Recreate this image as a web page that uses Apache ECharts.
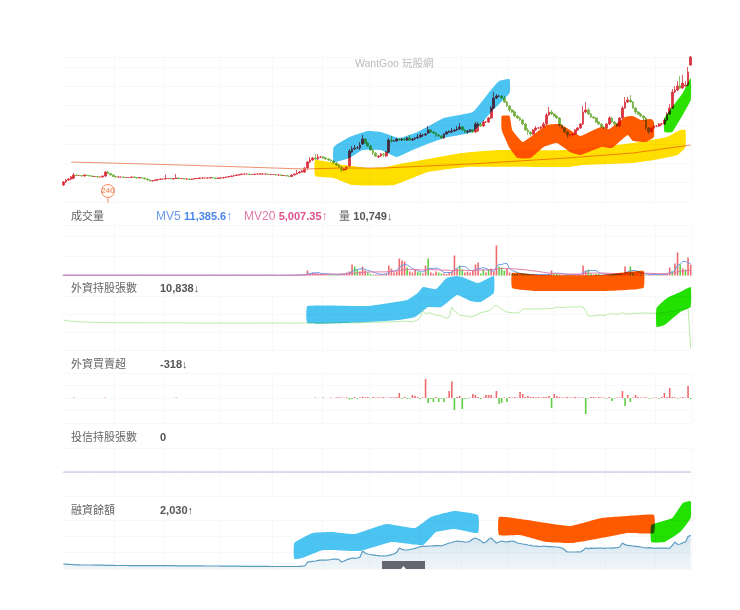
<!DOCTYPE html>
<html><head><meta charset="utf-8">
<script src="https://cdn.jsdelivr.net/npm/echarts@6/dist/echarts.min.js"></script>
<style>html,body{margin:0;background:#fff}#c{width:740px;height:610px}</style></head>
<body><div id="c"></div>
<script>
const opens=[5,8,10,11,12,15,14.5,14.5,14,15,14.5,14,13.5,13.5,13,13,14,18,16.5,15,
13.5,13,13,13,12.5,12.5,12.5,13,12.5,12,12.5,12,11,10,9,9.5,10,10.5,11,11,
11.5,11.5,11,11.5,12,11.5,11.5,11,11,10.5,11,11.5,11.5,12,12,12,12,12.5,12,11.5,
12,12,12.5,13,13.5,14,14.5,15,15.5,16,16,16,15.5,15.5,16,16,16,16,16,15.5,
15.5,15.5,15,15,14.5,14.5,14,13.5,15,16,17,18,18,22,28,30,32,31,33,33,
32,31,30,29,27,25,23,20,21,24,38,41,42,42,46,51,47,44,40,37,
33,34,36,34,38,50,49,49,51,50,51,50,52,50,51,52,53,55,55,57,
60,58,57,55,54,52,56,58,58,59,60,61,63,60,58,59,60,58,59,66,
64,68,68,72,82,92,94,94,92,88,84,80,78,74,72,70,66,60,58,56,
60,62,62,63,66,75,78,76,74,72,65,62,58,55,55,56,60,62,66,78,
80,76,73,72,68,66,63,62,66,72,68,66,64,72,82,88,90,88,82,78,
76,74,72,62,58,62,64,64,66,66,70,76,82,98,100,104,102,104,105,125];
const closes=[8,10,11,13,15,14.5,14.5,14,15,14.5,14,13.5,13.5,13,13,14,18,16.5,15,13.5,
13,13,13,12.5,12.5,12.5,13,12.5,12,12.5,12,11,10,9,9.5,10,10.5,11,11,11.5,
11.5,11,11.5,12,11.5,11.5,11,11,10.5,11,11.5,11.5,12,12,12,12,12.5,12,11.5,12,
12,12.5,13,13.5,14,14.5,15,15.5,16,16,16,15.5,15.5,16,16,16,16,16,15.5,15.5,
15.5,15,15,14.5,14.5,14,13.5,15,16,17,18,19,22,28,30,32,31,33,33,32,
31,30,29,27,25,23,20,21,23,39,41,42,42,45,51,47,44,40,37,34,
34,36,35,38,50,49,49,51,50,51,50,52,50,51,52,53,55,55,56,60,
58,57,55,54,52,56,58,58,59,60,61,63,60,58,59,60,58,66,66,64,
68,68,72,82,92,94,94,92,88,84,80,78,74,72,70,66,60,58,56,60,
62,62,63,66,75,78,76,74,72,65,62,58,55,55,56,60,62,66,78,80,
76,73,72,68,66,63,62,66,72,68,66,64,72,82,88,90,88,82,78,76,
74,72,62,58,62,64,64,66,66,70,76,82,98,100,104,102,107,105,118,133];
const wickUp=[1,1,1,1,2,.5,.5,.5,.5,.5,.5,.5,.5,.5,.5,.5,1,1,.5,.5,
.5,.5,.5,.5,.5,.5,.5,.5,.5,.5,.5,.5,.5,.5,.5,.5,.5,.5,.5,4,
.5,.5,.5,4,.5,.5,.5,.5,.5,.5,.5,.5,.5,.5,.5,.5,.5,.5,.5,.5,
.5,.5,.5,.5,.5,.5,.5,.5,.5,.5,.5,.5,.5,.5,.5,.5,.5,.5,.5,.5,
.5,.5,.5,.5,.5,.5,.5,.5,.5,3,1,1,1,1,3,1,4,3,1,1,
1,1,1,1,1,1,1,1,1,2,3,3,2,3,4,1,1,1,1,1,
1,1,1,1,2,4,1,1,1,1,1,1,3,1,1,3,2,1,1,4,
1,1,1,1,1,1,1,2,3,1,3,4,1,1,1,1,1,2,2,1,
2,1,1,2,6,2,1,1,2,1,1,1,1,1,1,1,1,2,1,1,
2,1,1,2,2,5,2,1,1,1,1,1,1,1,1,1,1,1,6,8,
2,1,1,1,1,1,1,1,2,1,1,1,1,2,5,3,5,1,1,1,
1,1,1,1,1,1,1,1,1,2,2,4,3,4,5,10,8,4,5,1];
const wickDown=[1,1,1,1,1,.5,.5,.5,.5,.5,.5,.5,.5,.5,.5,.5,1,.5,.5,.5,
.5,.5,.5,.5,.5,.5,.5,.5,.5,.5,.5,.5,.5,.5,.5,.5,.5,.5,.5,.5,
.5,.5,.5,.5,.5,.5,.5,.5,.5,.5,.5,.5,.5,.5,.5,.5,.5,.5,.5,.5,
.5,.5,.5,.5,.5,.5,.5,.5,.5,.5,.5,.5,.5,.5,.5,.5,.5,.5,.5,.5,
.5,.5,.5,.5,.5,.5,.5,.5,.5,.5,.5,.5,1,2,1,1,1,1,1,1,
1,1,1,1,1,1,2,1,1,1,1,1,1,2,1,1,1,1,2,1,
1,1,2,1,1,2,1,1,1,1,1,1,1,1,1,1,1,2,1,1,
1,1,2,1,1,1,1,1,1,1,1,1,1,1,2,1,1,1,1,1,
1,1,1,1,1,1,1,1,1,1,2,1,1,1,1,1,1,3,2,1,
1,1,1,1,1,1,1,1,1,2,1,1,3,2,1,1,1,1,1,1,
1,1,1,1,1,1,1,1,1,1,1,1,1,1,1,1,1,1,2,1,
1,3,2,2,1,1,1,1,1,1,1,1,1,1,1,1,1,1,1,1];
const longAverage=[[3,28],[45,25],[92,21],[106,22],[122,22],[155,26],[192,32],[217,37],[239,45]];

const volume=[.3,.4,.3,.5,.4,.3,.2,.2,.3,.2,.2,.3,.2,.2,.2,.3,.5,.4,.3,.2,
.2,.2,.3,.2,.2,.2,.3,.2,.2,.2,.3,.2,.3,.4,.2,.2,.2,.2,.3,.5,
.2,.2,.2,.5,.2,.2,.2,.2,.2,.2,.2,.2,.3,.2,.2,.2,.2,.2,.2,.2,
.2,.2,.3,.2,.2,.2,.2,.3,.2,.2,.2,.2,.2,.2,.2,.2,.2,.2,.2,.2,
.2,.2,.3,.2,.3,.2,.3,.4,.5,.8,.6,1,1,5,2,3,2.5,2,1.5,1.5,
1.5,1,1,.8,.8,1,2,1.5,3,4,11,9,6,4,9,5,3,1.5,1,1,
1,1.5,1,2,10,7,3,4,17,15,14,8,4,3,6,4,3,2,10,17,
3,2,4,3,2,2,1.5,3,4,20,7,10,6,3,4,3,5,11,13,2,
6,3,6,7,4,30,9,8,5,7,3,2,1.5,1.5,1,1.5,1,1,1,1,
1,1,.8,1,.8,1.5,5,2,1.5,1,.8,.8,.8,1,1,.8,.8,1,10,5,
6,2,1,1.5,1.5,1,1,1.5,1,1,1.5,1,1,1.5,9,3,9,3,1.5,1,
1,.8,.8,1,1,.8,1,1,1,1.5,2,8,4,12,23,11,7,6,18,10.749];
const volumeDownDays=[5,6,18,19,33,48,101,102,103,104,105,111,112,116,117,118,131,135,136,139,143,144,151,152,159,160,162,166,167,168,171,172,173,
175,176,177,187,188,189,191,192,200,201,203,204,205,209,210,216,217,220,222,226,232,235,237];
const mv5=[.3,.3,.3,.3,.3,.3,.3,.3,.3,.3,.3,.3,.3,.3,.3,.3,.3,.3,.3,.3,
.3,.3,.3,.3,.3,.3,.3,.3,.3,.3,.3,.3,.3,.3,.3,.3,.3,.3,.3,.3,
.3,.3,.3,.3,.3,.3,.3,.3,.3,.3,.3,.3,.3,.3,.3,.3,.3,.3,.3,.3,
.3,.3,.3,.3,.3,.3,.3,.3,.3,.3,.3,.3,.3,.3,.3,.3,.3,.3,.3,.3,
.3,.2,.2,.2,.3,.3,.3,.3,.3,.4,.5,.6,.7,1.6,2,2.5,2.7,3,2.2,2,
1.8,1.6,1.4,1.2,1,.9,1.1,1.3,1.9,2.4,4,5.5,6,6.5,7,6,5,4.5,3.5,2.5,
1.5,1.2,1.2,1.4,3,4.5,4.5,5,8,10,11,10.5,9,7,6,5,4,3.5,5,7,
7,7,7.5,7,5,3,3,3,3,6,7,9,9,9,7,5,5,6,7,7,
8,7,6,5,4,9,11,11,12,12,7,5,4,3,2,1.5,1.5,1.2,1,1,
1,1,1,1,1,1,1.8,2.2,2.3,2.2,2,1.5,1,1,1,1,1,1,3,4,
5,5,5,5,3,2,1.5,1.5,1.2,1.2,1,1,1,1.2,3,3.5,5,5,5,4,
3,2,1.5,1.2,1,1,1,1,1,1.2,1.5,3,3.5,5.5,10,11.5,14,14,13,11.3856];
const mv20=[.3,.3,.3,.3,.3,.3,.3,.3,.3,.3,.3,.3,.3,.3,.3,.3,.3,.3,.3,.3,
.3,.3,.3,.3,.3,.3,.3,.3,.3,.3,.3,.3,.3,.3,.3,.3,.3,.3,.3,.3,
.3,.3,.3,.3,.3,.3,.3,.3,.3,.3,.3,.3,.3,.3,.3,.3,.3,.3,.3,.3,
.3,.3,.3,.3,.3,.3,.3,.3,.3,.3,.3,.3,.3,.3,.3,.3,.3,.3,.3,.3,
.3,.3,.3,.3,.3,.3,.3,.3,.4,.4,.5,.5,.6,.7,.8,.9,1,1,1.1,1.2,
1.3,1.3,1.4,1.4,1.4,1.4,1.5,1.5,1.6,1.7,2.1,2.4,2.7,2.9,3.2,3.3,3.4,3.5,3.5,3.6,
3.6,3.6,3.6,3.7,4,4.2,4.3,4.5,5,5.4,5.8,6,6,6,5.9,5.8,5.7,5.6,5.6,5.8,
5.8,5.7,5.7,5.6,5.5,5.4,5.3,5.2,5,5.2,5.2,5.3,5.3,5.2,5.1,5,5,5.3,5.6,5.5,
5.6,5.6,5.7,5.8,5.8,6.5,6.8,7,7,7,6.8,6.7,6.6,6.5,6.2,6,5.8,5.4,5,4.6,
4.4,4,3.6,3.2,2.8,2.3,2.2,2,1.9,1.7,1.6,1.5,1.5,1.4,1.4,1.4,1.4,1.4,1.9,2.1,
2.3,2.4,2.4,2.4,2.4,2.4,2.4,2.3,2.2,2.1,2,1.9,1.9,1.9,2.2,2.3,2.6,2.6,2.6,2.6,
2.5,2.4,2.3,2.2,2.1,2,1.9,1.8,1.8,1.8,1.8,2.1,2.3,2.8,3.8,4.2,4.5,4.8,5,5.00735];

const foreignHolding=[165,163,160,158,157,156,155,155,154,154,153,153,152,152,152,151,151,151,150,150,
150,150,150,150,150,150,150,150,150,150,149,149,149,149,149,149,149,149,149,149,
149,149,149,149,149,149,149,148,148,148,148,148,148,148,148,148,148,148,148,148,
148,148,148,148,148,148,148,148,148,148,148,148,148,148,148,148,148,148,148,148,
148,148,148,148,148,148,148,148,148,148,148,148,148,148,148,148,148,148,148,148,
148,149,149,149,150,149,150,150,150,149,149,150,150,150,151,151,152,152,152,153,
153,153,154,155,155,155,155,156,156,158,158,156,156,155,160,165,180,214,200,203,
203,197,192,190,187,181,175,180,236,215,205,192,190,187,185,181,185,190,198,205,
209,212,214,225,240,247,235,225,215,208,207,205,204,204,210,226,226,224,226,226,
226,226,226,227,226,228,228,232,236,235,234,235,236,236,237,237,237,238,236,215,
187,186,188,190,192,190,190,195,198,200,197,196,200,206,198,200,196,203,200,203,
203,204,203,202,204,202,200,204,205,206,207,210,212,215,218,222,226,228,230,10.838];

const foreignNet=[0,0,0,0,150,0,0,0,0,0,0,0,0,0,0,0,150,0,0,0,
0,0,0,0,0,0,0,0,0,0,0,0,0,0,0,0,0,0,0,0,
0,0,0,150,0,0,0,0,0,0,0,0,0,0,0,0,0,0,0,0,
0,0,0,0,0,0,0,0,0,0,0,0,0,0,0,0,0,0,0,0,
0,0,0,0,0,0,0,0,0,0,0,0,0,0,0,0,150,0,0,150,
0,0,150,0,200,200,150,100,200,-450,-300,300,-200,150,400,200,300,-100,300,150,
200,150,300,100,150,200,250,300,1500,-200,300,-250,-250,900,600,300,-300,150,5700,-1500,
-300,-1200,300,-1200,-200,-1200,150,2100,4950,-3600,300,600,-3300,-200,-200,150,1200,900,300,-300,
150,900,900,900,150,2100,-1800,-1500,150,-1200,300,150,300,150,1800,1200,300,600,300,300,
200,300,150,300,300,600,-3000,1200,600,300,150,150,300,150,150,300,150,150,150,-4800,
-150,300,300,150,300,200,150,-200,300,-900,-150,150,150,2100,-2400,900,-1200,150,900,300,
150,150,200,-150,-150,150,150,-200,300,1500,300,3000,300,200,-200,150,300,150,3600,-318];

const trustHolding=[0,0,0,0,0,0,0,0,0,0,0,0,0,0,0,0,0,0,0,0,
0,0,0,0,0,0,0,0,0,0,0,0,0,0,0,0,0,0,0,0,
0,0,0,0,0,0,0,0,0,0,0,0,0,0,0,0,0,0,0,0,
0,0,0,0,0,0,0,0,0,0,0,0,0,0,0,0,0,0,0,0,
0,0,0,0,0,0,0,0,0,0,0,0,0,0,0,0,0,0,0,0,
0,0,0,0,0,0,0,0,0,0,0,0,0,0,0,0,0,0,0,0,
0,0,0,0,0,0,0,0,0,0,0,0,0,0,0,0,0,0,0,0,
0,0,0,0,0,0,0,0,0,0,0,0,0,0,0,0,0,0,0,0,
0,0,0,0,0,0,0,0,0,0,0,0,0,0,0,0,0,0,0,0,
0,0,0,0,0,0,0,0,0,0,0,0,0,0,0,0,0,0,0,0,
0,0,0,0,0,0,0,0,0,0,0,0,0,0,0,0,0,0,0,0,
0,0,0,0,0,0,0,0,0,0,0,0,0,0,0,0,0,0,0,0];

const marginBalance=[300,290,280,270,260,250,250,240,240,240,240,240,230,230,230,230,220,220,220,220,
210,210,210,210,210,200,200,200,200,200,200,200,200,200,200,200,200,200,200,200,
200,200,200,190,190,190,190,190,190,190,190,190,190,190,180,180,180,180,180,180,
170,170,170,170,170,170,170,170,160,160,160,160,160,160,160,160,160,160,160,150,
150,150,150,150,150,150,150,150,150,150,160,170,180,400,440,460,480,520,530,530,
530,540,570,590,600,560,420,480,560,610,660,640,660,700,1080,960,900,870,850,820,
800,780,790,780,820,860,900,1000,1260,1180,1140,1140,1160,1200,1240,1290,1340,1380,1360,1380,
1380,1390,1400,1400,1380,1440,1500,1560,1590,1650,1680,1660,1650,1620,1620,1680,1800,1860,1780,1700,
1560,1620,1780,1860,1700,1560,1620,1680,1640,1620,1660,1680,1640,1560,1530,1500,1480,1440,1420,1380,
1370,1360,1350,1380,1360,1340,1340,1320,1320,1300,1260,1140,1020,1020,1020,1020,1030,1020,1120,1260,
1220,1250,1240,1260,1250,1250,1240,1260,1260,1250,1270,1280,1320,1560,1460,1420,1400,1380,1360,1340,
1320,1290,1260,1280,1270,1240,1260,1250,1260,1250,1260,1240,1420,1620,1480,1500,1580,1620,1950,2030];

const gridDays=[20,39,60,80,99,117,136,152,170,187,207,226];
const averageMarker=[[17,-1,'240']];

const mainBlue=[[103,43],[109,53],[116,59],[121,58],[128,52],[135,58],[145,72],[156,78],[162,97],[166,109],[170,111],[170,97],[163,78],[156,58],[145,52],[133,40],[127,33],[121,40],[114,40],[109,32],[103,28]];
const mainYellow=[[96,30],[107,25],[116,22],[123,23],[128,26],[141,32],[152,37],[166,40],[192,40],[217,47],[230,53],[235,60],[237,60],[237,43],[234,35],[225,30],[217,27],[198,25],[192,23],[154,23],[139,18],[126,5],[110,5],[103,12],[96,14]];
const mainOrange=[[167,74],[170,74],[171,60],[175,48],[179,55],[184,65],[189,66],[193,60],[197,54],[202,60],[205,63],[208,61],[214,73],[217,74],[220,70],[224,71],[225,68],[225,53],[222,48],[217,49],[215,55],[209,42],[205,43],[197,35],[193,38],[188,47],[183,43],[178,32],[173,32],[170,42],[167,60]];
const mainGreen=[[229,72],[236,97],[239,112],[239,90],[232,58],[229,58]];
const holdBlue=[[93,242],[116,242],[131,275],[135,313],[137,346],[142,335],[146,396],[150,407],[152,401],[158,368],[164,407],[164,313],[159,264],[155,270],[150,302],[144,236],[139,236],[134,181],[128,165],[107,148],[93,148]];
const holdOrange=[[171,424],[182,412],[205,412],[221,435],[221,341],[207,325],[179,325],[171,341]];
const holdGreen=[[226,231],[230,286],[235,319],[239,346],[239,236],[235,209],[229,137],[226,126]];
const marginBlue=[[88,1560],[95,2160],[102,2220],[111,2100],[123,2700],[134,2460],[140,3120],[149,3480],[158,3240],[158,2160],[149,2400],[142,2220],[137,1440],[125,1620],[113,1080],[99,1140],[91,660],[88,600]];
const marginOrange=[[166,3120],[179,2880],[193,2580],[205,3060],[215,3180],[225,3240],[225,2160],[215,2160],[203,1800],[194,1560],[184,1620],[174,2040],[166,2040]];
const marginGreen=[[224,2640],[232,3060],[236,3960],[239,4080],[239,3060],[235,2220],[229,1620],[224,1620]];

const days=closes.map((_,k)=>String(k));
const candles=opens.map((o,k)=>[o,closes[k],Math.min(o,closes[k])-wickDown[k],Math.max(o,closes[k])+wickUp[k]]);
const FONT='"Liberation Sans","Noto Sans CJK TC",sans-serif';
const GRID='#f8f8fa';
const panels=[
 {top:57,height:145,min:-12,max:133,lines:7.51},
 {top:225,height:50.5,min:0,max:50.5,lines:2.6},
 {top:296,height:54,min:0,max:297,lines:3},
 {top:373,height:50,min:-7500,max:7500,lines:4},
 {top:448,height:48,min:-1,max:1,lines:2},
 {top:520,height:49,min:0,max:2940,lines:3}
];
function band(points,color,k){
 return {type:'custom',xAxisIndex:k,yAxisIndex:2*k,z:10,silent:true,clip:false,data:points,encode:{x:0,y:1},
  renderItem:(p,api)=>p.dataIndex!==0?null:({type:'polygon',shape:{points:points.map(q=>api.coord(q)),smooth:.12},style:{fill:color}})};
}
const line=(data,color,k,extra)=>Object.assign({type:'line',data,xAxisIndex:k,yAxisIndex:2*k,symbol:'none',silent:true,lineStyle:{color,width:1},z:5},extra||{});
const L=(x,y,text,rich)=>({type:'text',x,y,style:{text,font:'11px '+FONT,fill:'#666',rich,verticalAlign:'middle'}});
const num=(x,y,t)=>({type:'text',x,y,style:{text:t,font:'bold 11px '+FONT,fill:'#555',verticalAlign:'middle'}});
const option={animation:false,backgroundColor:'#fff',
 grid:panels.map(p=>({left:62,width:630,top:p.top,height:p.height})),
 xAxis:panels.map((p,k)=>({type:'category',gridIndex:k,data:days,axisLine:{show:false},axisTick:{show:false},axisLabel:{show:false},
   splitLine:{show:true,interval:i=>gridDays.includes(i),lineStyle:{color:GRID,width:1}}})),
 yAxis:panels.flatMap((p,k)=>[
  {type:'value',gridIndex:k,min:p.min,max:p.max,show:false,splitLine:{show:false}},
  {type:'value',gridIndex:k,min:0,max:p.lines,interval:1,axisLine:{show:false},axisTick:{show:false},axisLabel:{show:false},splitLine:{show:true,lineStyle:{color:GRID,width:1}}}
 ]),
 series:[
  {type:'candlestick',data:candles,xAxisIndex:0,yAxisIndex:0,barWidth:2.2,z:4,silent:true,
   itemStyle:{color:'#d8343f',color0:'#76b043',borderColor:'#d8343f',borderColor0:'#76b043',borderWidth:.8}},
  line(longAverage,'#ee9270',0,{connectNulls:true}),
  {type:'custom',xAxisIndex:0,yAxisIndex:0,silent:true,z:6,clip:false,data:averageMarker,encode:{x:0,y:1},
   renderItem:(p,api)=>{const c=api.coord([api.value(0),api.value(1)]);return {type:'group',children:[
     {type:'line',shape:{x1:c[0],y1:c[1]+7,x2:c[0],y2:c[1]+12},style:{stroke:'#ee8a63',lineWidth:1}},
     {type:'circle',shape:{cx:c[0],cy:c[1],r:6.5},style:{fill:'#fff7f3',stroke:'#ee8a63',lineWidth:1}},
     {type:'text',x:c[0],y:c[1],style:{text:averageMarker[0][2],font:'8px '+FONT,fill:'#ee7a50',align:'center',verticalAlign:'middle'}}]};}},
  {type:'bar',data:volume.map((v,k)=>({value:v,itemStyle:{color:volumeDownDays.includes(k)?'#5fce45':'#ee6a6e'}})),xAxisIndex:1,yAxisIndex:2,barWidth:1.6,silent:true,z:3},
  line(mv5,'#6d9be8',1),
  line(mv20,'#e07aa8',1),
  line(foreignHolding,'#b9eaa8',2),
  {type:'bar',data:foreignNet.map(v=>({value:v,itemStyle:{color:v>=0?'#ee6a6e':'#5fce45'}})),xAxisIndex:3,yAxisIndex:6,barWidth:1.6,silent:true,z:3},
  line(trustHolding,'#b9b3ea',4),
  line(marginBalance,'#5a9bc0',5,{lineStyle:{color:'#5a9bc0',width:1.2},areaStyle:{color:{type:'linear',x:0,y:0,x2:0,y2:1,colorStops:[{offset:0,color:'rgba(110,165,200,.42)'},{offset:1,color:'rgba(170,205,225,.28)'}],global:false}}}),
  band(mainYellow,'#ffdf00',0),band(mainBlue,'#4cc4f2',0),band(mainOrange,'#ff5a00',0),band(mainGreen,'#2ce000',0),
  band(holdBlue,'#4cc4f2',2),band(holdOrange,'#ff5a00',2),band(holdGreen,'#22e000',2),
  band(marginBlue,'#4cc4f2',5),band(marginOrange,'#ff5a00',5),band(marginGreen,'#22e000',5)
 ],
 graphic:{elements:[
  {type:'text',x:355,y:64,z:20,style:{text:'WantGoo 玩股網',font:'10.5px '+FONT,fill:'#bbb',verticalAlign:'middle'}},
  L(71,217,'成交量'),
  {type:'text',x:156,y:217,style:{text:'{a|MV5} {b|11,385.6}{a|↑}',verticalAlign:'middle',rich:{a:{font:'12px '+FONT,fill:'#6a9ae6'},b:{font:'bold 11px '+FONT,fill:'#4a86e8'}}}},
  {type:'text',x:244,y:217,style:{text:'{a|MV20} {b|5,007.35}{a|↑}',verticalAlign:'middle',rich:{a:{font:'12px '+FONT,fill:'#e07aa8'},b:{font:'bold 11px '+FONT,fill:'#e0508a'}}}},
  {type:'text',x:339,y:217,style:{text:'{a|量} {b|10,749}{a|↓}',verticalAlign:'middle',rich:{a:{font:'11px '+FONT,fill:'#666'},b:{font:'bold 11px '+FONT,fill:'#555'}}}},
  L(71,289,'外資持股張數'),num(160,289,'10,838↓'),
  L(71,365,'外資買賣超'),num(160,365,'-318↓'),
  L(71,438,'投信持股張數'),num(160,438,'0'),
  L(71,511,'融資餘額'),num(160,511,'2,030↑'),
  {type:'rect',shape:{x:382,y:561,width:43,height:8},z:20,style:{fill:'#65666f'}},
  {type:'polygon',shape:{points:[[401,569],[403.5,566],[406,569]]},z:21,style:{fill:'#fff'}}
 ]}
};
const chart=echarts.init(document.getElementById('c'),null,{renderer:'canvas'});
chart.setOption(option);
const bandFills=['#ffdf00','#4cc4f2','#ff5a00','#2ce000','#22e000'];
const zr=chart.getZr();
zr.storage.getDisplayList(true).forEach(el=>{if(el.type==='polygon'&&bandFills.includes(el.style.fill)){el.style.blend='multiply';el.dirty();}});
zr.refreshImmediately();
</script></body></html>
